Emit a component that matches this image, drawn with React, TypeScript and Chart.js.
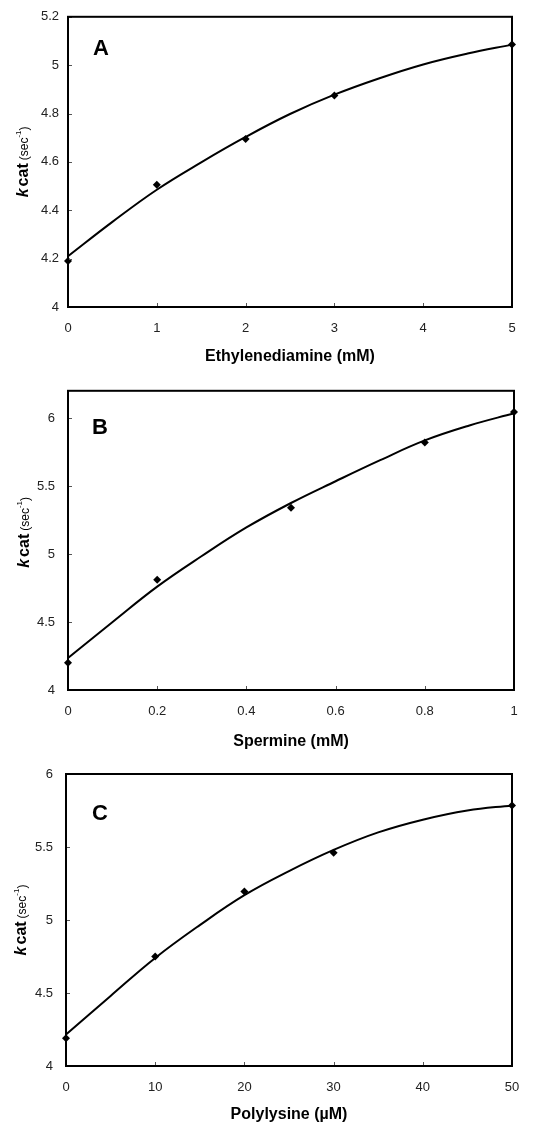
import { useEffect, useRef } from "react";
import { Chart, registerables } from "chart.js";
Chart.register(...registerables);

const FONT = '"Liberation Sans", Arial, Helvetica, sans-serif';

// ---- Panel A: Ethylenediamine ----
const ethylenediamineX = [0, 1, 2, 3, 5];
const ethylenediamineKcat = [4.19, 4.505, 4.695, 4.875, 5.085];
const ethylenediamineFitX = [0, 0.5, 1, 1.5, 2, 2.5, 3, 3.5, 4, 4.5, 5];
const ethylenediamineFitY = [4.21, 4.352, 4.485, 4.598, 4.703, 4.798, 4.878, 4.945, 5.003, 5.048, 5.085];
const ethylenediamineXTicks = [0, 1, 2, 3, 4, 5];
const ethylenediamineYTicks = [4, 4.2, 4.4, 4.6, 4.8, 5, 5.2];

// ---- Panel B: Spermine ----
const spermineX = [0, 0.2, 0.5, 0.8, 1];
const spermineKcat = [4.2, 4.81, 5.34, 5.82, 6.045];
const spermineFitX = [0, 0.1, 0.2, 0.3, 0.4, 0.5, 0.6, 0.7, 0.8, 0.9, 1];
const spermineFitY = [4.235, 4.5, 4.76, 4.985, 5.195, 5.375, 5.535, 5.69, 5.835, 5.945, 6.035];
const spermineXTicks = [0, 0.2, 0.4, 0.6, 0.8, 1];
const spermineYTicks = [4, 4.5, 5, 5.5, 6];

// ---- Panel C: Polylysine ----
const polylysineX = [0, 10, 20, 30, 50];
const polylysineKcat = [4.19, 4.75, 5.195, 5.46, 5.785];
const polylysineFitX = [0, 5, 10, 15, 20, 25, 30, 35, 40, 45, 50];
const polylysineFitY = [4.215, 4.48, 4.74, 4.965, 5.17, 5.335, 5.48, 5.6, 5.687, 5.75, 5.785];
const polylysineXTicks = [0, 10, 20, 30, 40, 50];
const polylysineYTicks = [4, 4.5, 5, 5.5, 6];

type PanelProps = {
  letter: string;
  xTitle: string;
  ptX: number[];
  ptY: number[];
  fitX: number[];
  fitY: number[];
  xTicks: number[];
  yTicks: number[];
  xMin: number;
  xMax: number;
  yMin: number;
  yMax: number;
  top: number;
  height: number;
  plotLeft: number;
  plotRight: number;
  plotTop: number;
  plotBottom: number;
  yLabelGap: number;
  xLabelGap: number;
  letterX: number;
  letterDy: number;
  xTitleDy: number;
  yTitleX: number;
  yTitleDy: number;
};

function drawYTitle(ctx: CanvasRenderingContext2D, x: number, cy: number) {
  ctx.save();
  ctx.translate(x, cy);
  ctx.rotate(-Math.PI / 2);
  ctx.fillStyle = "#000";
  ctx.textBaseline = "alphabetic";
  ctx.textAlign = "left";
  const parts = [
    { t: "k", f: `italic bold 16px ${FONT}`, dy: 0, gap: 2 },
    { t: "cat", f: `bold 16px ${FONT}`, dy: 0, gap: 3 },
    { t: "(sec", f: `12px ${FONT}`, dy: 0, gap: 0 },
    { t: "-1", f: `8px ${FONT}`, dy: -7, gap: 0 },
    { t: ")", f: `12px ${FONT}`, dy: 0, gap: 0 },
  ];
  let total = 0;
  for (const p of parts) {
    ctx.font = p.f;
    total += ctx.measureText(p.t).width + p.gap;
  }
  let xx = -total / 2;
  for (const p of parts) {
    ctx.font = p.f;
    ctx.fillText(p.t, xx, p.dy);
    xx += ctx.measureText(p.t).width + p.gap;
  }
  ctx.restore();
}

function Panel(props: PanelProps) {
  const ref = useRef<HTMLCanvasElement | null>(null);
  useEffect(() => {
    const canvas = ref.current;
    if (!canvas) return;
    const p = props;
    const decor = {
      id: "decor" + p.letter,
      afterDatasetsDraw(chart: any) {
        const ctx: CanvasRenderingContext2D = chart.ctx;
        const { left, right, top, bottom } = chart.chartArea;
        const xs = chart.scales.x;
        const ys = chart.scales.y;
        ctx.save();
        // inward tick marks
        ctx.strokeStyle = "#555";
        ctx.lineWidth = 1;
        for (const v of p.yTicks) {
          const y = Math.round(ys.getPixelForValue(v)) + 0.5;
          ctx.beginPath();
          ctx.moveTo(left, y);
          ctx.lineTo(left + 4, y);
          ctx.stroke();
        }
        for (const v of p.xTicks) {
          const x = Math.round(xs.getPixelForValue(v)) + 0.5;
          ctx.beginPath();
          ctx.moveTo(x, bottom);
          ctx.lineTo(x, bottom - 4);
          ctx.stroke();
        }
        // frame
        ctx.strokeStyle = "#000";
        ctx.lineWidth = 2;
        ctx.strokeRect(left, top, right - left, bottom - top);
        // panel letter
        ctx.fillStyle = "#000";
        ctx.font = `bold 22px ${FONT}`;
        ctx.textAlign = "left";
        ctx.textBaseline = "alphabetic";
        ctx.fillText(p.letter, p.letterX, top + p.letterDy);
        // x title
        ctx.font = `bold 16px ${FONT}`;
        ctx.textAlign = "center";
        ctx.textBaseline = "middle";
        ctx.fillText(p.xTitle, (left + right) / 2, bottom + p.xTitleDy);
        ctx.restore();
        drawYTitle(ctx, p.yTitleX, (top + bottom) / 2 + p.yTitleDy);
      },
    };
    const chart = new Chart(canvas, {
      type: "scatter",
      data: {
        datasets: [
          {
            label: "measured",
            data: p.ptX.map((x, i) => ({ x, y: p.ptY[i] })),
            pointStyle: "rectRot",
            pointRadius: 4,
            backgroundColor: "#000",
            borderColor: "#000",
            borderWidth: 0,
            showLine: false,
            clip: false,
          },
          {
            label: "fit",
            data: p.fitX.map((x, i) => ({ x, y: p.fitY[i] })),
            showLine: true,
            pointRadius: 0,
            borderColor: "#000",
            borderWidth: 2,
            tension: 0.4,
            clip: false,
          },
        ],
      },
      options: {
        animation: false,
        responsive: false,
        devicePixelRatio: 1,
        layout: {
          padding: { left: 0, top: p.plotTop, right: 539 - p.plotRight, bottom: 0 },
        },
        plugins: { legend: { display: false }, tooltip: { enabled: false } },
        scales: {
          x: {
            type: "linear",
            min: p.xMin,
            max: p.xMax,
            grid: { display: false, drawTicks: false },
            border: { display: false },
            afterBuildTicks: (s: any) => {
              s.ticks = p.xTicks.map((v) => ({ value: v }));
            },
            afterFit: (s: any) => {
              s.height = p.height - p.plotBottom;
            },
            ticks: {
              autoSkip: false,
              maxRotation: 0,
              padding: p.xLabelGap,
              color: "#222",
              font: { family: FONT, size: 13 },
              callback: (v: any) => String(v),
            },
          },
          y: {
            type: "linear",
            min: p.yMin,
            max: p.yMax,
            grid: { display: false, drawTicks: false },
            border: { display: false },
            afterBuildTicks: (s: any) => {
              s.ticks = p.yTicks.map((v) => ({ value: v }));
            },
            afterFit: (s: any) => {
              s.width = p.plotLeft;
            },
            ticks: {
              autoSkip: false,
              padding: p.yLabelGap,
              color: "#222",
              font: { family: FONT, size: 13 },
              callback: (v: any) => String(v),
            },
          },
        },
      },
      plugins: [decor],
    } as any);
    return () => chart.destroy();
  }, []);
  return (
    <div style={{ position: "absolute", left: 0, top: props.top, width: 539, height: props.height }}>
      <canvas ref={ref} width={539} height={props.height} style={{ display: "block" }} />
    </div>
  );
}

export default function App() {
  return (
    <div style={{ position: "absolute", left: 0, top: 0, width: 539, height: 1123, background: "#fff" }}>
      <Panel
        letter="A"
        xTitle="Ethylenediamine (mM)"
        ptX={ethylenediamineX}
        ptY={ethylenediamineKcat}
        fitX={ethylenediamineFitX}
        fitY={ethylenediamineFitY}
        xTicks={ethylenediamineXTicks}
        yTicks={ethylenediamineYTicks}
        xMin={0}
        xMax={5}
        yMin={4}
        yMax={5.2}
        top={0}
        height={370}
        plotLeft={68}
        plotRight={512}
        plotTop={14}
        plotBottom={307}
        yLabelGap={9}
        xLabelGap={14}
        letterX={93}
        letterDy={38}
        xTitleDy={50}
        yTitleX={28}
        yTitleDy={0}
      />
      <Panel
        letter="B"
        xTitle="Spermine (mM)"
        ptX={spermineX}
        ptY={spermineKcat}
        fitX={spermineFitX}
        fitY={spermineFitY}
        xTicks={spermineXTicks}
        yTicks={spermineYTicks}
        xMin={0}
        xMax={1}
        yMin={4}
        yMax={6.2}
        top={370}
        height={380}
        plotLeft={68}
        plotRight={514}
        plotTop={17}
        plotBottom={320}
        yLabelGap={13}
        xLabelGap={14}
        letterX={92}
        letterDy={43}
        xTitleDy={52}
        yTitleX={29}
        yTitleDy={-8}
      />
      <Panel
        letter="C"
        xTitle="Polylysine (µM)"
        ptX={polylysineX}
        ptY={polylysineKcat}
        fitX={polylysineFitX}
        fitY={polylysineFitY}
        xTicks={polylysineXTicks}
        yTicks={polylysineYTicks}
        xMin={0}
        xMax={50}
        yMin={4}
        yMax={6}
        top={750}
        height={373}
        plotLeft={66}
        plotRight={512}
        plotTop={24}
        plotBottom={316}
        yLabelGap={13}
        xLabelGap={14}
        letterX={92}
        letterDy={46}
        xTitleDy={49}
        yTitleX={26}
        yTitleDy={0}
      />
    </div>
  );
}
